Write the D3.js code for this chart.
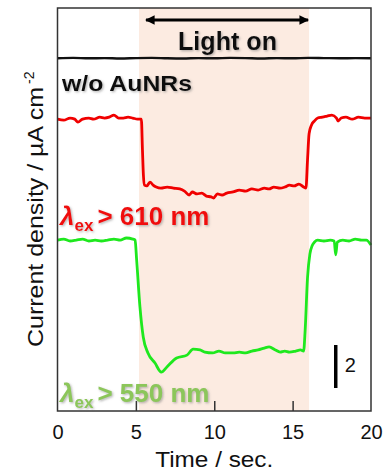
<!DOCTYPE html>
<html><head><meta charset="utf-8">
<script src="https://cdn.jsdelivr.net/npm/d3@7"></script>
<style>body{margin:0;background:#fff}svg{display:block}text{font-family:Arial,"Liberation Sans",sans-serif}</style>
</head><body><svg id="c" width="385" height="472"></svg>
<script>
const xTicks = [0, 5, 10, 15, 20];
const lightOn = [5.2, 16.05];
const blackT = [0, 1, 2, 3, 4, 5, 6, 7, 8, 9, 10, 11, 12, 13, 14, 15, 16, 17, 18, 19, 20];
const blackV = [16.41, 16.43, 16.41, 16.42, 16.40, 16.42, 16.43, 16.41, 16.40, 16.42, 16.41, 16.43, 16.42, 16.40, 16.42, 16.41, 16.43, 16.42, 16.41, 16.42, 16.41];
const redT = [0, 0.4, 0.8, 1.1, 1.3, 1.6, 2.0, 2.3, 2.7, 3.0, 3.3, 3.6, 3.9, 4.2, 4.5, 4.8, 5.1, 5.35, 5.42, 5.48,
  5.55, 5.7, 5.9, 6.1, 6.3, 6.6, 7.0, 7.4, 7.8, 8.1, 8.4, 8.6, 8.9, 9.2, 9.5, 9.8, 9.95, 10.2, 10.5, 10.8,
  11.2, 11.6, 12.0, 12.4, 12.8, 13.2, 13.5, 13.8, 14.2, 14.5, 14.8, 15.1, 15.4, 15.7, 15.85, 15.95, 16.05, 16.2, 16.4, 16.6,
  16.9, 17.2, 17.5, 17.8, 17.9, 18.1, 18.4, 18.8, 19.2, 19.6, 20.0];
const redV = [13.58, 13.53, 13.63, 13.58, 13.44, 13.58, 13.63, 13.58, 13.67, 13.63, 13.67, 13.77, 13.63, 13.63, 13.67, 13.63, 13.58, 13.58, 12.14, 10.98,
  10.51, 10.47, 10.65, 10.51, 10.42, 10.37, 10.42, 10.37, 10.33, 10.23, 10.05, 10.19, 10.10, 10.14, 10.00, 9.96, 9.91, 10.10, 10.05, 10.14,
  10.19, 10.28, 10.23, 10.33, 10.28, 10.37, 10.33, 10.42, 10.37, 10.42, 10.51, 10.47, 10.56, 10.42, 10.37, 11.67, 12.90, 13.30, 13.50, 13.63,
  13.67, 13.72, 13.77, 13.63, 13.49, 13.63, 13.67, 13.58, 13.67, 13.63, 13.63];
const greenT = [0, 0.4, 0.8, 1.2, 1.6, 2.0, 2.4, 2.8, 3.2, 3.6, 4.0, 4.4, 4.8, 4.95, 5.05, 5.26, 5.47, 5.77, 6.22, 6.62,
  6.98, 7.6, 8.26, 8.65, 9.09, 9.4, 9.9, 10.3, 10.7, 11.2, 11.6, 12.0, 12.4, 12.8, 13.2, 13.5, 13.9, 14.2, 14.5, 14.8,
  15.2, 15.5, 15.7, 15.8, 15.95, 16.1, 16.25, 16.4, 16.6, 17.0, 17.4, 17.65, 17.75, 17.85, 18.2, 18.6, 19.0, 19.4, 19.7, 20.0];
const greenV = [7.95, 8.00, 7.91, 7.95, 8.00, 7.91, 7.95, 7.91, 7.95, 8.00, 7.95, 8.05, 8.00, 7.95, 7.02, 4.84, 3.44, 2.70, 2.23, 1.81,
  2.05, 2.47, 2.60, 2.88, 2.84, 2.74, 2.70, 2.79, 2.70, 2.70, 2.74, 2.70, 2.79, 2.84, 2.93, 2.98, 2.84, 2.74, 2.79, 2.74,
  2.79, 2.84, 2.79, 3.77, 6.20, 7.30, 7.70, 7.86, 7.95, 7.91, 7.95, 7.91, 7.26, 7.86, 7.95, 7.91, 8.00, 7.95, 7.95, 7.72];
const scaleBar = {t: 17.75, from: 1.07, to: 3.07, label: "2"};

const svg = d3.select("#c");
const x = d3.scaleLinear().domain([0, 20]).range([57.5, 371]);
const y = d3.scaleLinear().domain([0, 18.75]).range([411, 8]);

const defs = svg.append("defs");
const f = defs.append("filter").attr("id", "sh").attr("x", "-10%").attr("y", "-20%").attr("width", "130%").attr("height", "150%");
f.append("feDropShadow").attr("dx", 1.2).attr("dy", 1.2).attr("stdDeviation", 1).attr("flood-color", "#777").attr("flood-opacity", 0.55);
const m = defs.append("marker").attr("id", "ah").attr("viewBox", "0 0 10 10").attr("refX", 9).attr("refY", 5)
  .attr("markerWidth", 3.6).attr("markerHeight", 3.2).attr("orient", "auto-start-reverse").attr("markerUnits", "strokeWidth");
m.append("path").attr("d", "M0,0L10,5L0,10Z").attr("fill", "#000");

// shaded region
svg.append("rect").attr("x", x(lightOn[0])).attr("y", y(18.75)).attr("width", x(lightOn[1]) - x(lightOn[0]))
  .attr("height", y(0) - y(18.75)).attr("fill", "#fcebe1");

const line = d3.line().x(d => x(d[0])).y(d => y(d[1])).curve(d3.curveMonotoneX);
function draw(T, V, color, w) {
  svg.append("path").datum(T.map((t, i) => [t, V[i]])).attr("d", line).attr("fill", "none")
    .attr("stroke", color).attr("stroke-width", w).attr("stroke-linejoin", "round");
}
draw(blackT, blackV, "#111", 2.4);
draw(redT, redV, "#f00000", 2.8);
draw(greenT, greenV, "#1ee81e", 2.8);

// frame
svg.append("rect").attr("x", x(0)).attr("y", y(18.75)).attr("width", x(20) - x(0)).attr("height", y(0) - y(18.75))
  .attr("fill", "none").attr("stroke", "#333").attr("stroke-width", 1.5);

// x axis
const ax = svg.append("g").attr("transform", `translate(0,${y(0)})`)
  .call(d3.axisBottom(x).tickValues(xTicks).tickSize(-10).tickPadding(14).tickFormat(d3.format("d")));
ax.select(".domain").remove();
ax.selectAll(".tick line").attr("stroke", "#333").attr("stroke-width", 1.5).filter(d => d === 0 || d === 20).remove();
ax.selectAll(".tick text").attr("font-size", 20).attr("fill", "#111").attr("font-family", "Arial, 'Liberation Sans', sans-serif");

svg.append("text").attr("x", x(10)).attr("y", 467).attr("text-anchor", "middle").attr("font-size", 22)
  .attr("textLength", 118).attr("lengthAdjust", "spacingAndGlyphs").attr("fill", "#111").text("Time / sec.");

// y label
const yl = svg.append("text").attr("transform", "translate(43,347) rotate(-90)").attr("font-size", 22).attr("fill", "#111");
yl.append("tspan").attr("textLength", 260).attr("lengthAdjust", "spacingAndGlyphs").text("Current density / µA cm");
yl.append("tspan").attr("dx", 3).attr("dy", -9).attr("font-size", 14).text("-2");

// arrow
svg.append("line").attr("x1", x(lightOn[0]) + 7).attr("x2", x(lightOn[1]) - 1).attr("y1", 20).attr("y2", 20)
  .attr("stroke", "#000").attr("stroke-width", 3).attr("marker-start", "url(#ah)").attr("marker-end", "url(#ah)");
svg.append("text").attr("x", 178).attr("y", 50).attr("font-size", 25).attr("font-weight", "bold").attr("fill", "#111")
  .attr("textLength", 99).attr("lengthAdjust", "spacingAndGlyphs").attr("filter", "url(#sh)").text("Light on");

svg.append("text").attr("x", 62).attr("y", 91).attr("font-size", 22).attr("font-weight", "bold").attr("fill", "#111")
  .attr("textLength", 130).attr("lengthAdjust", "spacingAndGlyphs").attr("filter", "url(#sh)").text("w/o AuNRs");

function lam(yb, color, rest) {
  const t = svg.append("text").attr("x", 60).attr("y", yb).attr("font-size", 26).attr("font-weight", "bold")
    .attr("fill", color).attr("filter", "url(#sh)");
  t.append("tspan").attr("font-style", "italic").text("λ");
  t.append("tspan").attr("font-size", 17).attr("dy", 6).text("ex");
  t.append("tspan").attr("dy", -6).attr("dx", 4).text(rest);
  return t;
}
lam(225, "#f01010", "> 610 nm");
lam(402, "#8cc65a", "> 550 nm");

// scale bar
svg.append("line").attr("x1", x(scaleBar.t)).attr("x2", x(scaleBar.t)).attr("y1", y(scaleBar.from)).attr("y2", y(scaleBar.to))
  .attr("stroke", "#000").attr("stroke-width", 3.5);
svg.append("text").attr("x", x(scaleBar.t) + 9).attr("y", 372).attr("font-size", 20).attr("fill", "#111").text(scaleBar.label);
</script></body></html>
